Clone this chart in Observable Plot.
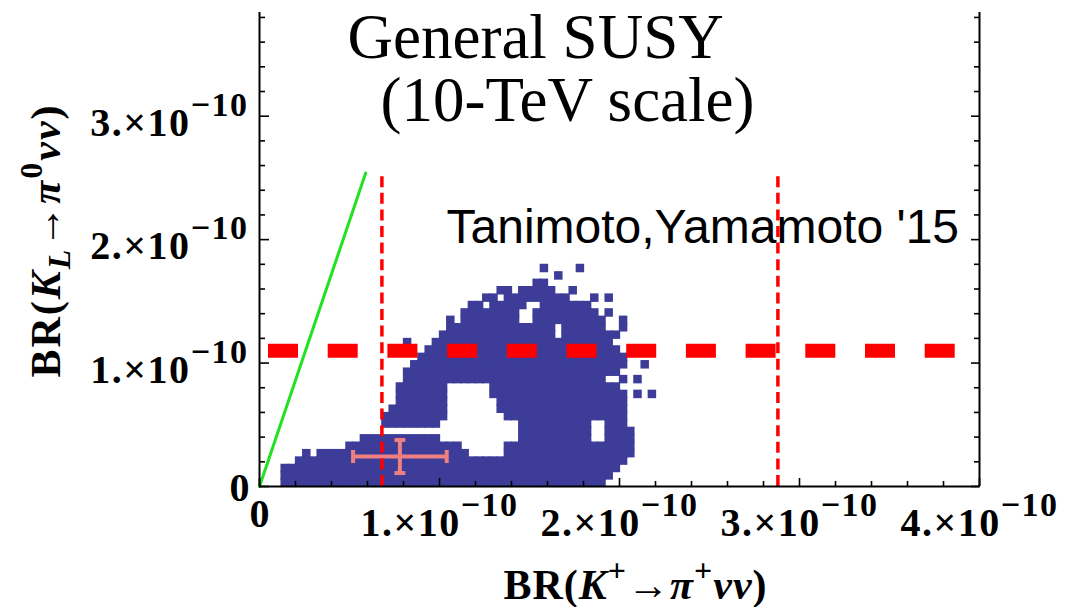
<!DOCTYPE html>
<html>
<head>
<meta charset="utf-8">
<script src="https://cdn.jsdelivr.net/npm/d3@7"></script>
<script src="https://cdn.jsdelivr.net/npm/@observablehq/plot@0.6"></script>
<style>
  html, body { margin: 0; padding: 0; background: #fff; }
  #chart svg { display: block; }
</style>
</head>
<body>
<div id="chart"></div>
<script>
// All branching ratios are in units of 1e-10.

// Parameter scan (general SUSY, 10-TeV scale), binned on a regular grid.
// Top line of the map is the highest BR(KL) bin; "#" marks an occupied bin.
// Columns are grouped by ten for readability.
const scanX0 = 0.14, scanDX = 0.04;   // BR(K+) of the first column, column width
const scanY0 = 0.03, scanDY = 0.06;   // BR(KL) of the lowest row, row height
const scanMap = [
  ".......... .......... .......... ......#... .#........ ...",
  ".......... .......... .......... ........#. .......... ...",
  ".......... .......... .......... .....##... .......... ...",
  ".......... .......... .......... ##.#####.. #......... ...",
  ".......... .......... ........## .######### ...#.#.... ...",
  ".......... .......... ......##.# ####..#### ###....... ...",
  ".......... .......... .....##### ###..##### ####.#.... ...",
  ".......... .......... ...#.##### ###..##### #####..#.. ...",
  ".......... .......... ...####### ########.# #####..#.. ...",
  ".......... .......... ..######## ########.# #######... ...",
  ".......... .......#.. .######### ########## ######.... ...",
  ".......... .......... ########## ########## #######... ...",
  ".......... .........# ########## ########## ########.. ...",
  ".......... ........## ########## ########## ########.. #..",
  ".......... .......### ########## ########## #######... ...",
  ".......... .......### ########## ########## #####..#.# ...",
  ".......... ......#### ###......# ########## #######... ...",
  ".......... ......#### ###......# ########## ########.# .#.",
  ".......... ......#### ###....... ########## ########.. ...",
  ".......... .....##### ###....... ########## ########.. ...",
  ".......... ....###### ###....... .######### ########.. ...",
  ".......... ....###### ##........ ...####### ###..###.. ...",
  ".......... .......... .......... ...####### ###..####. ...",
  ".......... .######### ##........ ...####### ###..####. ...",
  ".........# ########## #####..... .######### #########. ...",
  "...#.##### ########## ######.... .######### #########. ...",
  "..######## ########## ########## ########## ########.. ...",
  "########## ########## ########## ########## #######... ...",
  "########## ########## ########## ########## ######.... ...",
  "########## ########## ########## ########## #####..... ..."
];

// Grossman–Nir bound BR(KL) = 4.3 BR(K+)
const gnBound = [{x: 0, y: 0}, {x: 0.59, y: 2.54}];
// E949 range for BR(K+)
const kpRange = [0.68, 2.88];
const kpRangeTop = 2.54;
// Horizontal BR(KL) reference level and its extent
const klLevel = 1.1;
const klLevelX = [0.05, 3.88];
// Standard Model prediction with uncertainties
const sm = {x: 0.78, y: 0.243, ex: 0.26, ey: 0.134};

// Axes
const xMajorTicks = [0, 1, 2, 3, 4];
const yMajorTicks = [0, 1, 2, 3];
const xTickLabels = ["0", "1.×10^−10", "2.×10^−10", "3.×10^−10", "4.×10^−10"];
const yTickLabels = ["0", "1.×10^−10", "2.×10^−10", "3.×10^−10"];
const minorTicks = d3.range(1, 20).filter(i => i % 5).map(i => i / 5);

const titleLines = ["General SUSY", "(10-TeV scale)"];
const credit = "Tanimoto,Yamamoto '15";
// [text, style]: "i" italic, "sup" superscript, "sub" italic subscript
const xTitleParts = [["BR(", ""], ["K", "i"], ["+", "sup"], ["→", ""], ["π", "i"], ["+", "sup"], ["νν", "i"], [")", ""]];
const yTitleParts = [["BR(", ""], ["K", "i"], ["L", "sub"], ["→", ""], ["π", "i"], ["0", "sup"], ["νν", "i"], [")", ""]];

// --- scan bins -> points
const scanPoints = [];
scanMap.forEach((line, k) => {
  const r = scanMap.length - 1 - k;
  [...line.replace(/ /g, "")].forEach((ch, c) => {
    if (ch === "#") scanPoints.push({x: scanX0 + c * scanDX, y: scanY0 + r * scanDY});
  });
});

// SM error bars with end caps
const capX = 0.03, capY = 0.053;
const smBars = [
  {x1: sm.x - sm.ex, x2: sm.x + sm.ex, y1: sm.y, y2: sm.y},
  {x1: sm.x, x2: sm.x, y1: sm.y - sm.ey, y2: sm.y + sm.ey},
  {x1: sm.x - sm.ex, x2: sm.x - sm.ex, y1: sm.y - capY, y2: sm.y + capY},
  {x1: sm.x + sm.ex, x2: sm.x + sm.ex, y1: sm.y - capY, y2: sm.y + capY},
  {x1: sm.x - capX, x2: sm.x + capX, y1: sm.y - sm.ey, y2: sm.y - sm.ey},
  {x1: sm.x - capX, x2: sm.x + capX, y1: sm.y + sm.ey, y2: sm.y + sm.ey}
];

const serif = "'Liberation Serif', 'Times New Roman', serif";
const sans = "'Liberation Sans', Arial, sans-serif";
const tickFont = 40;
const titleFont = 42;
const hasExp = s => s.includes("^");
const xTitle = xTitleParts.map(p => p[0]).join("");
const yTitle = yTitleParts.map(p => p[0]).join("");

const chart = Plot.plot({
  width: 1077,
  height: 607,
  marginLeft: 259,
  marginRight: 98,
  marginTop: 12,
  marginBottom: 121,
  x: {domain: [0, 4], axis: null},
  y: {domain: [0, 3.84], axis: null},
  style: {background: "#fff", color: "#000", overflow: "visible"},
  marks: [
    Plot.dot(scanPoints, {x: "x", y: "y", symbol: "square", r: 4.8, fill: "#3d3d99", stroke: "none"}),
    Plot.line(gnBound, {x: "x", y: "y", stroke: "#22e022", strokeWidth: 3}),
    Plot.link(smBars, {x1: "x1", y1: "y1", x2: "x2", y2: "y2", stroke: "#f08080", strokeWidth: 4}),
    Plot.ruleY([klLevel], {x1: klLevelX[0], x2: klLevelX[1], stroke: "#ff0000", strokeWidth: 14, strokeDasharray: "30,29.7"}),
    Plot.ruleX(kpRange, {y1: 0, y2: kpRangeTop, stroke: "#ff0000", strokeWidth: 3.5, strokeDasharray: "11,5.6"}),

    // frame: left, right and bottom
    Plot.ruleX([0, 4], {y1: 0, y2: 3.84, stroke: "#000", strokeWidth: 2}),
    Plot.ruleY([0], {x1: 0, x2: 4, stroke: "#000", strokeWidth: 2}),

    // inward ticks
    Plot.axisY(yMajorTicks, {anchor: "left", tickSize: -10, tickFormat: () => "", strokeWidth: 1.6, label: null}),
    Plot.axisY(minorTicks, {anchor: "left", tickSize: -6, tickFormat: () => "", strokeWidth: 1.6, label: null}),
    Plot.axisY(yMajorTicks, {anchor: "right", tickSize: -9, tickFormat: () => "", strokeWidth: 1.6, label: null}),
    Plot.axisY(minorTicks, {anchor: "right", tickSize: -6, tickFormat: () => "", strokeWidth: 1.6, label: null}),
    Plot.axisX(xMajorTicks, {anchor: "bottom", tickSize: -8, tickFormat: () => "", strokeWidth: 1.6, label: null}),
    Plot.axisX(minorTicks, {anchor: "bottom", tickSize: -5, tickFormat: () => "", strokeWidth: 1.6, label: null}),

    // tick labels
    Plot.text(yMajorTicks, {
      x: 0, y: d => d, text: (d, i) => yTickLabels[i], filter: (d, i) => hasExp(yTickLabels[i]),
      textAnchor: "end", lineAnchor: "bottom", dx: -11, dy: 19.5,
      fontSize: tickFont, fontWeight: "bold", fontFamily: serif
    }),
    Plot.text(yMajorTicks, {
      x: 0, y: d => d, text: (d, i) => yTickLabels[i], filter: (d, i) => !hasExp(yTickLabels[i]),
      textAnchor: "end", lineAnchor: "bottom", dx: -10, dy: 14,
      fontSize: tickFont, fontWeight: "bold", fontFamily: serif
    }),
    Plot.text(xMajorTicks, {
      x: d => d, y: 0, text: (d, i) => xTickLabels[i], filter: (d, i) => hasExp(xTickLabels[i]),
      textAnchor: "middle", lineAnchor: "bottom", dy: 49,
      fontSize: tickFont, fontWeight: "bold", fontFamily: serif
    }),
    Plot.text(xMajorTicks, {
      x: d => d, y: 0, text: (d, i) => xTickLabels[i], filter: (d, i) => !hasExp(xTickLabels[i]),
      textAnchor: "middle", lineAnchor: "bottom", dy: 40,
      fontSize: tickFont, fontWeight: "bold", fontFamily: serif
    }),

    // axis titles
    Plot.text([xTitle], {
      frameAnchor: "bottom", dx: 16, dy: 112, textAnchor: "middle", lineAnchor: "bottom",
      fontSize: titleFont, fontWeight: "bold", fontFamily: serif
    }),
    Plot.text([yTitle], {
      frameAnchor: "left", rotate: -90, dx: -200, dy: -9, textAnchor: "middle", lineAnchor: "bottom",
      fontSize: titleFont, fontWeight: "bold", fontFamily: serif
    }),

    // annotations inside the frame
    Plot.text([titleLines[0]], {frameAnchor: "top-left", dx: 88, dy: 45, textAnchor: "start", lineAnchor: "bottom", fontSize: 63, fontFamily: serif}),
    Plot.text([titleLines[1]], {frameAnchor: "top-left", dx: 121, dy: 108, textAnchor: "start", lineAnchor: "bottom", fontSize: 63, fontFamily: serif}),
    Plot.text([credit], {frameAnchor: "top-left", dx: 187, dy: 230, textAnchor: "start", lineAnchor: "bottom", fontSize: 48, fontFamily: sans})
  ]
});

document.getElementById("chart").appendChild(chart);

// Rich text: italics, superscripts and subscripts as tspans
const NS = "http://www.w3.org/2000/svg";
function richText(el, parts, size, supScale, supShift) {
  el.textContent = "";
  let shift = 0;
  for (const [s, kind] of parts) {
    const t = document.createElementNS(NS, "tspan");
    const target = kind === "sup" ? -supShift * size : kind === "sub" ? 0.26 * size : 0;
    if (target !== shift) { t.setAttribute("dy", target - shift); shift = target; }
    if (kind === "sup" || kind === "sub") t.setAttribute("font-size", Math.round(supScale * size));
    if (kind === "i" || kind === "sub") t.setAttribute("font-style", "italic");
    t.textContent = s;
    el.appendChild(t);
  }
}
chart.querySelectorAll("text").forEach(el => {
  const s = el.textContent;
  if (s === xTitle) {
    richText(el, xTitleParts, titleFont, 0.75, 0.42);
    el.setAttribute("letter-spacing", "1");
  } else if (s === yTitle) {
    richText(el, yTitleParts, titleFont, 0.75, 0.42);
    el.setAttribute("letter-spacing", "2");
  } else if (hasExp(s)) {
    const [base, exp] = s.split("^");
    richText(el, [[base, ""], [exp, "sup"]], tickFont, 0.85, 0.5);
    el.setAttribute("letter-spacing", "1.5");
  }
});
</script>
</body>
</html>
